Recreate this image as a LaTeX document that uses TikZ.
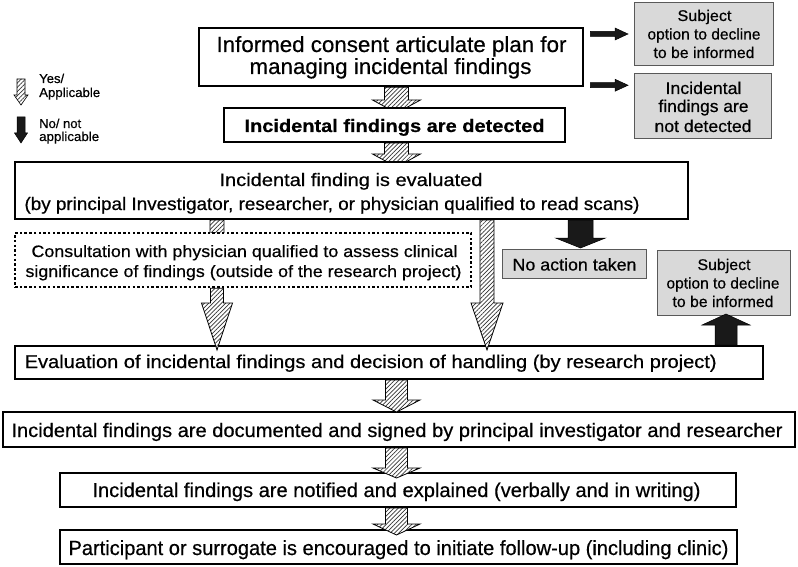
\documentclass[tikz,border=0pt]{standalone}
\usepackage{fontspec}
\setmainfont{Liberation Sans}[FakeBold=0.5]
\usepackage{graphicx}
\usetikzlibrary{calc,patterns.meta}
\pgfdeclarelayer{back}
\pgfdeclarelayer{bg}
\pgfsetlayers{back,bg,main}
\newcommand{\tx}[3]{\resizebox{#2pt}{\height}{\fontsize{#1pt}{#1pt}\selectfont #3}}
\newcommand{\varr}[6]{\path[#1] let \p1=(#2), \p2=(#3) in ({\x1-#4},\y1) -- ({\x1-#4},{\y2+(#6)}) -- ({\x1-#5},{\y2+(#6)}) -- (\x1,\y2) -- ({\x1+#5},{\y2+(#6)}) -- ({\x1+#4},{\y2+(#6)}) -- ({\x1+#4},\y1) -- cycle;}
\newcommand{\harr}[6]{\path[#1] let \p1=(#2), \p2=(#3) in (\x1,{\y1-#4}) -- ({\x2-#6},{\y1-#4}) -- ({\x2-#6},{\y1-#5}) -- (\x2,\y1) -- ({\x2-#6},{\y1+#5}) -- ({\x2-#6},{\y1+#4}) -- (\x1,{\y1+#4}) -- cycle;}
\begin{document}
\begin{tikzpicture}[x=1pt,y=-1pt,
  box/.style={draw, line width=2pt, fill=white, inner sep=0pt},
  gbox/.style={draw=black!65, line width=1pt, fill=black!15, inner sep=0pt},
  dbox/.style={draw, line width=2.5pt, dash pattern=on 2.5pt off 2.2pt, fill=white, inner sep=0pt},
  hatch/.style={draw=black, line width=0.8pt, preaction={fill=white}, pattern={Lines[angle=45,distance=3pt,line width=0.7pt]}, pattern color=black!80},
  blk/.style={fill=black!90, draw=black, line width=0.5pt},
  txt/.style={inner sep=0pt, anchor=base},
  ltxt/.style={inner sep=0pt, anchor=base west}]
\begin{pgfonlayer}{back}
\fill[white] (0,0) rectangle (798,567);
\end{pgfonlayer}
\useasboundingbox (0,0) rectangle (798,567);

% legend
\coordinate (la1) at (21,79);
\coordinate (la2) at (21,105);
\coordinate (lb1) at (21,117);
\coordinate (lb2) at (21,143);
\varr{hatch, line width=0.6pt}{la1}{la2}{4pt}{7pt}{10pt}
\varr{blk}{lb1}{lb2}{4pt}{6.5pt}{10pt}
\node[ltxt] (l1) at (39,83) {\tx{13}{25}{Yes/}};
\node[ltxt] (l2) at (39,97) {\tx{13}{61}{Applicable}};
\node[ltxt] (l3) at (39,128) {\tx{13}{42}{No/ not}};
\node[ltxt] (l4) at (39,141) {\tx{13}{60}{applicable}};

% main boxes
\node[box, line width=2.5pt, minimum width=384pt, minimum height=58pt] (b1) at (391,57) {};
\node[txt] (b1a) at (391.5,52) {\tx{22}{350}{Informed consent articulate plan for}};
\node[txt] (b1b) at (390.5,74) {\tx{22}{282}{managing incidental findings}};

\node[box, minimum width=341pt, minimum height=34pt] (b2) at (394.5,125) {};
\node[txt] (b2a) at (394.5,132) {\tx{18}{300}{\bfseries Incidental findings are detected}};

\node[box, minimum width=673pt, minimum height=57pt] (b3) at (351.5,190.5) {};
\node[txt] (b3a) at (351,186) {\tx{18}{263}{Incidental finding is evaluated}};
\node[txt] (b3b) at (332,210) {\tx{18}{615}{(by principal Investigator, researcher, or physician qualified to read scans)}};

\node[dbox, minimum width=456pt, minimum height=54pt] (bd) at (243,260) {};
\node[txt] (bda) at (244.5,257) {\tx{16.5}{426}{Consultation with physician qualified to assess clinical}};
\node[txt] (bdb) at (243.5,277) {\tx{16.5}{436}{significance of findings (outside of the research project)}};

\node[gbox, minimum width=139pt, minimum height=63pt] (g1) at (704,34) {};
\node[txt] (g1a) at (704.5,21) {\tx{15.5}{54}{Subject}};
\node[txt] (g1b) at (704,39.5) {\tx{15.5}{113}{option to decline}};
\node[txt] (g1c) at (704,58) {\tx{15.5}{101}{to be informed}};

\node[gbox, minimum width=137pt, minimum height=65pt] (g2) at (703,106) {};
\node[txt] (g2a) at (703.5,94) {\tx{17}{76}{Incidental}};
\node[txt] (g2b) at (703.5,112) {\tx{17}{90}{findings are}};
\node[txt] (g2c) at (703,132) {\tx{17}{97}{not detected}};

\node[gbox, minimum width=144pt, minimum height=29pt] (na) at (574.5,264) {};
\node[txt] (naa) at (574.5,270.5) {\tx{17}{124}{No action taken}};

\node[gbox, minimum width=133pt, minimum height=65pt] (g3) at (724,283) {};
\node[txt] (g3a) at (724,270) {\tx{15.5}{53}{Subject}};
\node[txt] (g3b) at (723,288.5) {\tx{15.5}{113}{option to decline}};
\node[txt] (g3c) at (723,307) {\tx{15.5}{101}{to be informed}};

\node[box, minimum width=748pt, minimum height=33pt] (ev) at (389,362.5) {};
\node[ltxt] (eva) at (24.5,368) {\tx{18.5}{692}{Evaluation of incidental findings and decision of handling (by research project)}};

\node[box, minimum width=792pt, minimum height=35pt] (dc) at (399,429.5) {};
\node[txt] (dca) at (397,437) {\tx{19.5}{771}{Incidental findings are documented and signed by principal investigator and researcher}};

\node[box, minimum width=676pt, minimum height=34pt] (nt) at (398,490) {};
\node[txt] (nta) at (396.5,497) {\tx{20}{608}{Incidental findings are notified and explained (verbally and in writing)}};

\node[box, minimum width=677pt, minimum height=34pt] (pt) at (398.5,547) {};
\node[txt] (pta) at (398.5,555) {\tx{20.5}{660}{Participant or surrogate is encouraged to initiate follow-up (including clinic)}};

% x positions of connectors
\coordinate (xA) at (396.5,0);
\coordinate (xB) at (217,0);
\coordinate (xC) at (487,0);
\coordinate (xK) at (580.5,0);
\coordinate (xU) at (726,0);

% connectors partly hidden behind the boxes
\begin{pgfonlayer}{bg}
\varr{hatch}{b1.south -| xA}{$(b2.north -| xA)+(0,6)$}{12pt}{24pt}{13pt}
\varr{hatch}{b2.south -| xA}{$(b3.north -| xA)+(0,6)$}{12pt}{24pt}{13pt}
\varr{hatch}{b3.south -| xB}{$(bd.north -| xB)+(0,18)$}{7pt}{15pt}{12pt}
\end{pgfonlayer}

% connectors on top
\varr{hatch}{bd.south -| xB}{$(ev.north -| xB)+(0,5)$}{6.5pt}{15.5pt}{47pt}
\varr{hatch}{b3.south -| xC}{$(ev.north -| xC)+(0,5)$}{7pt}{16pt}{47pt}
\varr{hatch}{ev.south -| xA}{$(dc.north -| xA)+(0,1)$}{11pt}{23.5pt}{12pt}
\varr{hatch}{dc.south -| xA}{$(nt.north -| xA)+(0,6)$}{11pt}{23.5pt}{10pt}
\varr{hatch}{nt.south -| xA}{$(pt.north -| xA)+(0,6)$}{11pt}{23.5pt}{11pt}

\varr{blk}{b3.south -| xK}{$(na.north -| xK)+(0,-1)$}{12.5pt}{25pt}{10pt}
\varr{blk}{ev.north -| xU}{$(g3.south -| xU)+(0,-2)$}{11pt}{24pt}{-11pt}

\coordinate (k1s) at ($(b1.east |- g1.west)+(6,0)$);
\coordinate (k1e) at ($(g1.west)+(-6,0)$);
\coordinate (k2s) at ($(b1.south east)+(6,-2)$);
\coordinate (k2e) at ($(g2.west |- k2s)+(-6,0)$);
\harr{blk}{k1s}{k1e}{2.5pt}{6pt}{13pt}
\harr{blk}{k2s}{k2e}{2.5pt}{6pt}{13pt}
\end{tikzpicture}
\end{document}
